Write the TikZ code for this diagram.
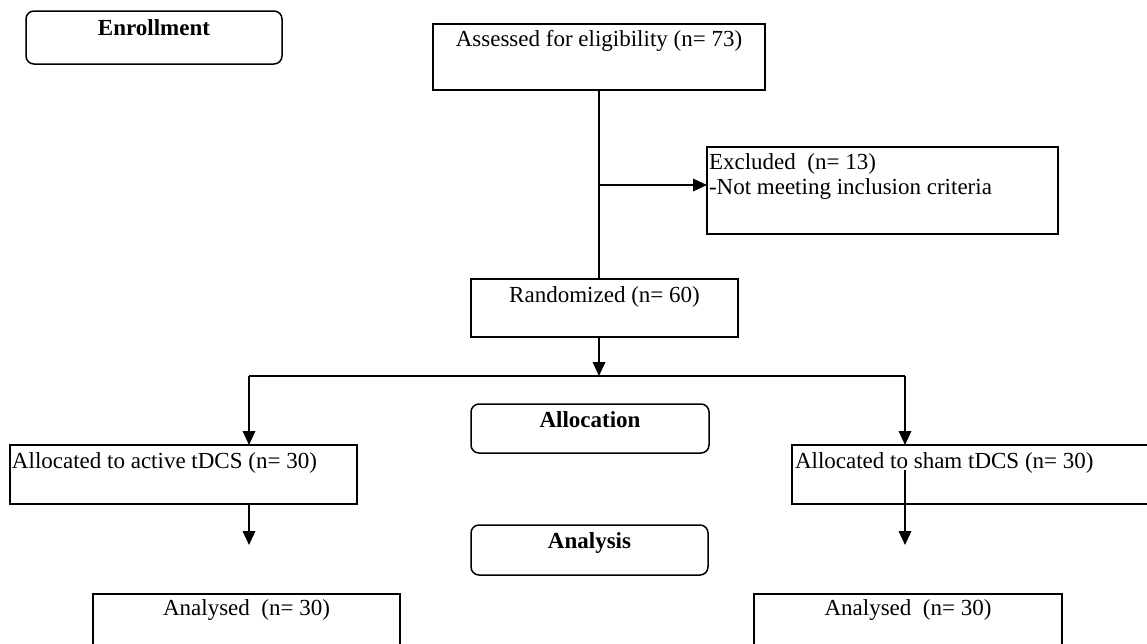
\documentclass[tikz,border=0pt]{standalone}
\usepackage{fontspec}
\setmainfont{Liberation Serif}
\usetikzlibrary{arrows.meta}
\newcommand{\figfont}{\fontsize{23}{25}\selectfont}
\tikzset{
  box/.style={draw, line width=1.5pt, inner sep=0pt, outer sep=0pt, anchor=north west},
  rbox/.style={box, rounded corners=8pt},
  txt/.style={inner sep=0pt, outer sep=0pt, anchor=base, font=\figfont},
  ltxt/.style={txt, anchor=base west},
  conn/.style={line width=1.8pt},
  arr/.style={conn, -{Triangle[width=12.5pt,length=14pt]}}
}
\begin{document}
\begin{tikzpicture}[x=1pt,y=-1pt]
\useasboundingbox (0,0) rectangle (1147,643);
\clip (0,0) rectangle (1147,643);
\fill[white] (0,0) rectangle (1147,643);
% boxes
\node[rbox, minimum width=256pt, minimum height=53pt] (enr) at (26,11) {};
\node[box, minimum width=332pt, minimum height=66pt] (ass) at (433,24) {};
\node[box, minimum width=351pt, minimum height=87pt] (exc) at (707,147) {};
\node[box, minimum width=267pt, minimum height=58pt] (ran) at (471,279) {};
\node[rbox, minimum width=238pt, minimum height=49pt] (alloc) at (471,404) {};
\node[rbox, minimum width=237pt, minimum height=50pt] (anal) at (471,525) {};
\node[box, minimum width=347pt, minimum height=59pt] (act) at (10,445) {};
\node[box, minimum width=400pt, minimum height=59pt] (sham) at (792,445) {};
\node[box, minimum width=307pt, minimum height=80pt] (an1) at (93,594) {};
\node[box, minimum width=308pt, minimum height=80pt] (an2) at (754,594) {};
% texts
\node[txt] (enrT) at ([yshift=-24pt]enr.north) {\bfseries Enrollment};
\node[txt] (assT) at ([yshift=-22pt]ass.north) {Assessed for eligibility (n= 73)};
\node[ltxt] (exc1) at (709,169) {Excluded\ \ (n= 13)};
\node[ltxt] (exc2) at (709,194) {-Not meeting inclusion criteria};
\node[txt] (ranT) at ([yshift=-23pt]ran.north) {Randomized (n= 60)};
\node[txt] (allocT) at ([yshift=-23pt]alloc.north) {\bfseries Allocation};
\node[txt] (analT) at ([yshift=-23pt]anal.north) {\bfseries Analysis};
\node[ltxt] (actT) at (12,468) {Allocated to active tDCS (n= 30)};
\node[ltxt] (shamT) at (795,468) {Allocated to sham tDCS (n= 30)};
\node[txt] (an1T) at ([yshift=-21pt]an1.north) {Analysed\ \ (n= 30)};
\node[txt] (an2T) at ([yshift=-21pt]an2.north) {Analysed\ \ (n= 30)};
% coordinates
\coordinate (trunk) at (599,90);
\coordinate (jx) at (599,185);
\coordinate (rb) at (599,337);
\coordinate (split) at (599,376);
\coordinate (sl) at (249,376);
\coordinate (sr) at (905,376);
\coordinate (le) at (249,545);
\coordinate (rs) at (905,470);
\coordinate (re) at (905,545);
% connectors
\draw[conn] (trunk) -- (trunk |- ran.north);
\draw[arr] (jx) -- (jx -| exc.west);
\draw[arr] (rb) -- (split);
\draw[conn] (sl) -- (sr);
\draw[arr] (sl) -- (sl |- act.north);
\draw[arr] (sr) -- (sr |- sham.north);
\draw[arr] (sl |- act.south) -- (le);
\draw[arr] (rs) -- (re);
\end{tikzpicture}
\end{document}
